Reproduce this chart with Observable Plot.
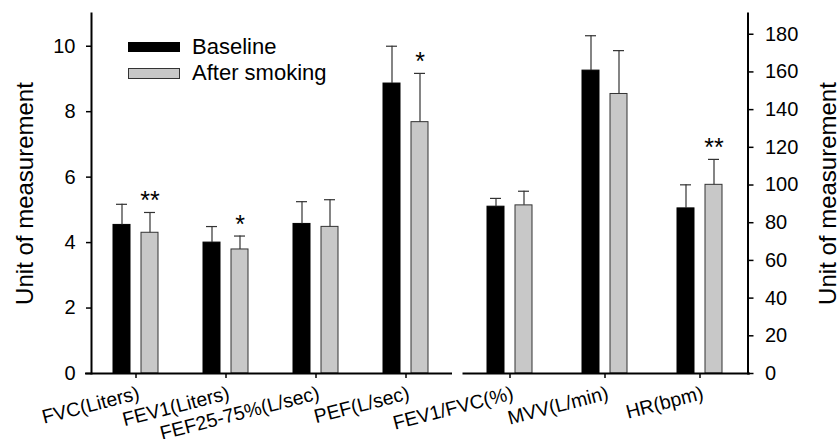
<!DOCTYPE html>
<html>
<head>
<meta charset="utf-8">
<script src="https://cdn.jsdelivr.net/npm/d3@7"></script>
<script src="https://cdn.jsdelivr.net/npm/@observablehq/plot@0.6"></script>
<style>
  html, body { margin: 0; padding: 0; background: #fff; }
  #wrap { position: relative; width: 840px; height: 439px; font-family: "Liberation Sans", Arial, sans-serif; }
  #wrap svg { position: absolute; left: 0; top: 0; background: none !important; }
  .legend { position: absolute; left: 128px; top: 34px; font-size: 22px; color: #000; }
  .legend .row { display: flex; align-items: center; height: 26px; }
  .legend .sw { width: 52px; height: 10px; box-sizing: border-box; margin-right: 12px; }
</style>
</head>
<body>
<div id="wrap"></div>
<script>
// ---- data ----
const seriesNames = ["Baseline", "After smoking"];
const yLabel = "Unit of measurement";

const leftCategories = ["FVC(Liters)", "FEV1(Liters)", "FEF25-75%(L/sec)", "PEF(L/sec)"];
const leftBaseline   = [4.54, 4.00, 4.57, 8.86];
const leftBaselineSD = [0.63, 0.49, 0.68, 1.14];
const leftAfter      = [4.30, 3.79, 4.48, 7.68];
const leftAfterSD    = [0.62, 0.41, 0.83, 1.49];
const leftSig        = ["**", "*", "", "*"];
const leftTicks      = [0, 2, 4, 6, 8, 10];

const rightCategories = ["FEV1/FVC(%)", "MVV(L/min)", "HR(bpm)"];
const rightBaseline   = [88.5, 160.7, 87.6];
const rightBaselineSD = [4.4, 18.5, 12.5];
const rightAfter      = [89.2, 148.3, 100.1];
const rightAfterSD    = [7.5, 23.0, 13.5];
const rightSig        = ["", "", "**"];
const rightTicks      = [0, 20, 40, 60, 80, 100, 120, 140, 160, 180];

// ---- build rows ----
const rows = (cats, vals, sds, sig) => cats.map((c, i) => ({cat: c, value: vals[i], top: vals[i] + sds[i], sig: sig ? sig[i] : ""}));
const lBase = rows(leftCategories, leftBaseline, leftBaselineSD);
const lAfter = rows(leftCategories, leftAfter, leftAfterSD, leftSig);
const rBase = rows(rightCategories, rightBaseline, rightBaselineSD);
const rAfter = rows(rightCategories, rightAfter, rightAfterSD, rightSig);

const FONT = '"Liberation Sans", Arial, sans-serif';
const BLACK = "#000";
const GREY = "#c8c8c8";
const EDGE = "#333";
const OFF = 14;

function panelMarks(cats, base, after, side) {
  const isLeft = side === "left";
  return [
    Plot.barY(base, {x: "cat", y: "value", fill: BLACK, stroke: BLACK, strokeWidth: 1, dx: -OFF}),
    Plot.barY(after, {x: "cat", y: "value", fill: GREY, stroke: EDGE, strokeWidth: 1, dx: OFF}),
    Plot.ruleX(base, {x: "cat", y1: "value", y2: "top", stroke: EDGE, strokeWidth: 1.2, dx: -OFF}),
    Plot.ruleX(after, {x: "cat", y1: "value", y2: "top", stroke: EDGE, strokeWidth: 1.2, dx: OFF}),
    Plot.tickY(base, {x: "cat", y: "top", stroke: EDGE, strokeWidth: 1.2, dx: -OFF, insetLeft: 3, insetRight: 3}),
    Plot.tickY(after, {x: "cat", y: "top", stroke: EDGE, strokeWidth: 1.2, dx: OFF, insetLeft: 3, insetRight: 3}),
    Plot.text(after.filter(d => d.sig), {x: "cat", y: "top", text: "sig", dx: OFF, dy: -3, lineAnchor: "bottom", fontSize: 25, fill: "#000"}),
    Plot.ruleY([0], {stroke: "#000", strokeWidth: 2, insetLeft: isLeft ? -6 : 0, insetRight: isLeft ? -1 : -2.5}),
    Plot.frame({anchor: side, stroke: "#000", strokeWidth: 2}),
    Plot.axisY({anchor: side, ticks: isLeft ? leftTicks : rightTicks, tickSize: 5, tickPadding: isLeft ? 11 : 12, fontSize: 20, label: null, strokeWidth: 1.5}),
    Plot.axisX({anchor: "bottom", tickSize: 5, tickFormat: () => "", label: null, strokeWidth: 1.5}),
    Plot.text(cats, {x: d => d, frameAnchor: "bottom", rotate: -14.5, textAnchor: "end", lineAnchor: "top", dy: 12, dx: 1, fontSize: 19.5, fill: "#000"}),
    Plot.text([yLabel], {frameAnchor: side, rotate: -90, textAnchor: "middle", lineAnchor: "bottom", dx: isLeft ? -59 : 88, fontSize: 24, fill: "#000"})
  ];
}

const common = {width: 840, height: 439, marginTop: 13, marginBottom: 66, style: {fontFamily: FONT, background: "none", color: "#000", overflow: "visible"}};

const left = Plot.plot({
  ...common,
  marginLeft: 91, marginRight: 389,
  x: {domain: leftCategories, paddingInner: 0.811, paddingOuter: 0.405, axis: null},
  y: {domain: [0, 11], axis: null},
  marks: panelMarks(leftCategories, lBase, lAfter, "left")
});

const right = Plot.plot({
  ...common,
  marginLeft: 462.5, marginRight: 92.5,
  x: {domain: rightCategories, paddingInner: 0.821, paddingOuter: 0.41, axis: null},
  y: {domain: [0, 191], axis: null},
  marks: panelMarks(rightCategories, rBase, rAfter, "right")
});

const wrap = document.getElementById("wrap");
wrap.appendChild(left);
wrap.appendChild(right);

// legend
const legend = document.createElement("div");
legend.className = "legend";
const swatchStyles = [{bg: BLACK, border: "1px solid #000"}, {bg: GREY, border: "1px solid " + EDGE}];
seriesNames.forEach((name, i) => {
  const row = document.createElement("div");
  row.className = "row";
  const sw = document.createElement("div");
  sw.className = "sw";
  sw.style.background = swatchStyles[i].bg;
  sw.style.border = swatchStyles[i].border;
  if (i === 1) sw.style.height = "11px";
  const t = document.createElement("span");
  t.textContent = name;
  row.appendChild(sw);
  row.appendChild(t);
  legend.appendChild(row);
});
wrap.appendChild(legend);
</script>
</body>
</html>
